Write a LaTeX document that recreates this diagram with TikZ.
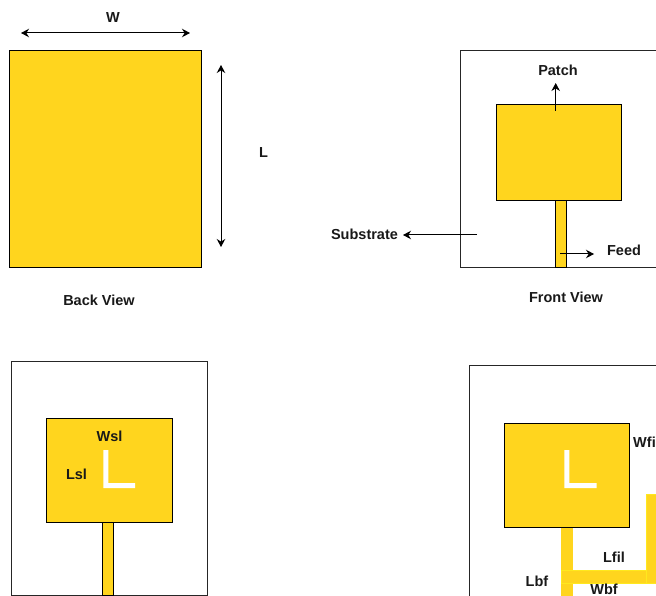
\documentclass[tikz,border=0pt]{standalone}
\usepackage{fontspec}
\setmainfont{Liberation Sans}
\usetikzlibrary{arrows.meta}
\definecolor{patchy}{HTML}{FFD51E}
\definecolor{edgey}{HTML}{FFE81E}
\tikzset{
  x=1pt,y=-1pt,
  lbl/.style={font=\fontsize{14.5}{16}\selectfont\bfseries,inner sep=0pt,text=black!90},
  cu/.style={draw=black,line width=1pt,fill=patchy},
  sub/.style={draw=black!85,line width=1pt,fill=white},
  strip/.style={draw=edgey,line width=0.6pt,fill=patchy},
  slot/.style={fill=white,draw=none},
  arr/.style={draw=black,line width=1pt,-{Stealth[length=8pt,width=8.5pt]}},
  darr/.style={draw=black,line width=1pt,{Stealth[length=8pt,width=8.5pt]}-{Stealth[length=8pt,width=8.5pt]}}
}
\begin{document}
\begin{tikzpicture}
\useasboundingbox (0,0) rectangle (656,596);
\clip (0,0) rectangle (656,596);
\fill[white] (0,0) rectangle (656,596);
% Back view
\draw[cu] (9.7,51) rectangle (201,267);
\coordinate (wa) at (21,33); \coordinate (wb) at (190,33);
\coordinate (la) at (221,65); \coordinate (lb) at (221,247);
\draw[darr] (wa) -- (wb);
\draw[darr] (la) -- (lb);
\node[lbl] (wlab) at (113,17.5) {W};
\node[lbl] (llab) at (263.5,152.5) {L};
\node[lbl] (backlab) at (99,300) {Back View};
% Front view
\draw[sub] (460.5,51) rectangle (657,267.7);
\draw[cu] (496,104.3) rectangle (621.7,200.7);
\draw[cu] (555.7,200.7) rectangle (566.3,267.7);
\node[lbl] (patchlab) at (558,70) {Patch};
\node[lbl] (sublab) at (364.5,234) {Substrate};
\node[lbl] (feedlab) at (624,250) {Feed};
\node[lbl] (frontlab) at (566,297) {Front View};
\coordinate (pa) at (555.7,111); \coordinate (pb) at (555.7,83);
\coordinate (sa) at (477,235); \coordinate (sb) at (403,235);
\coordinate (fa) at (560,254); \coordinate (fb) at (594,254);
\draw[arr] (pa) -- (pb);
\draw[arr] (sa) -- (sb);
\draw[arr] (fa) -- (fb);
% Bottom left
\draw[sub] (11.3,361) rectangle (207,595);
\draw[cu] (46.8,418.7) rectangle (172.7,522.7);
\draw[cu] (102.7,522.7) rectangle (113,595);
\fill[slot] (103.3,450) -- (108.3,450) -- (108.3,483) -- (135,483) -- (135,488) -- (103.3,488) -- cycle;
\node[lbl] (wsl) at (109.5,436) {Wsl};
\node[lbl] (lsl) at (76.5,474) {Lsl};
% Bottom right
\draw[sub] (469,365.7) rectangle (670,620);
\draw[cu] (504,423) rectangle (629.7,527.3);
\fill[slot] (564.3,450) -- (569.3,450) -- (569.3,483) -- (596.7,483) -- (596.7,488) -- (564.3,488) -- cycle;
\draw[strip,draw=patchy] (561.7,527.8) rectangle (572,600);
\draw[strip] (561.7,570) rectangle (646,583.3);
\draw[strip] (646,494) rectangle (662,583.3);
\node[lbl] (wfi) at (644.5,442) {Wfi};
\node[lbl] (lfil) at (614,557) {Lfil};
\node[lbl] (lbf) at (537,581) {Lbf};
\node[lbl] (wbf) at (604,589.3) {Wbf};
\end{tikzpicture}
\end{document}
